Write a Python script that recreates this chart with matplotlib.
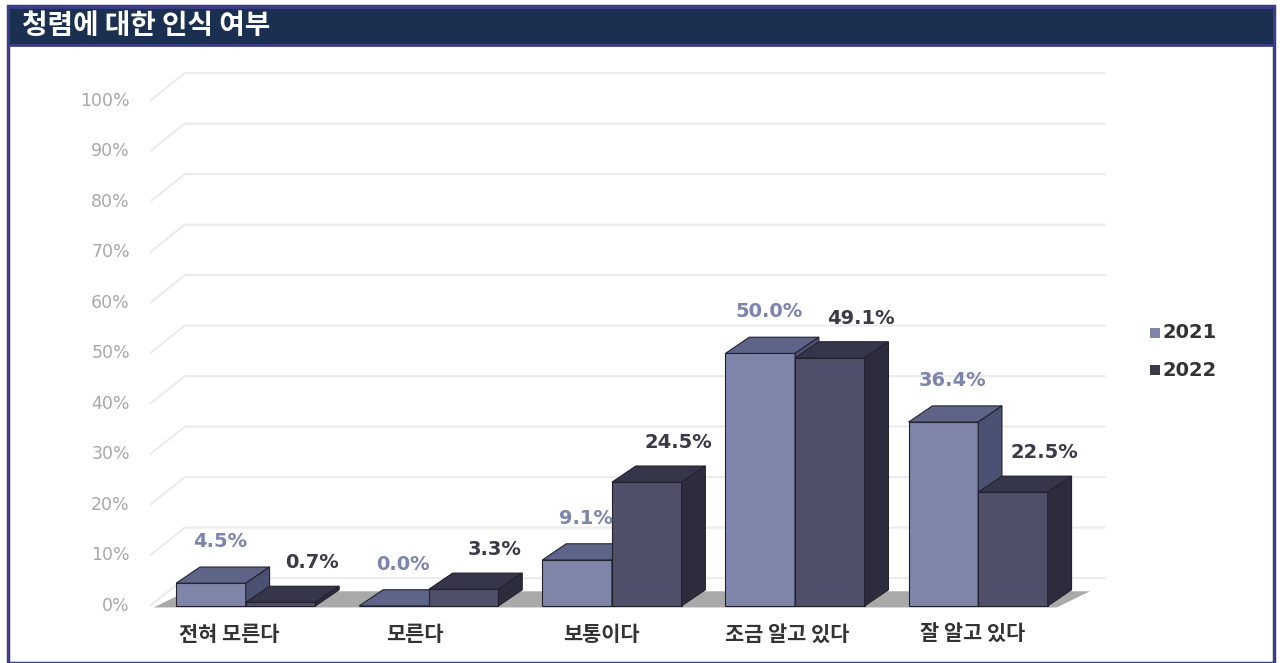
import matplotlib.pyplot as plt
from matplotlib.patches import Polygon, Rectangle

plt.rcParams['font.family'] = ['Noto Sans CJK KR', 'DejaVu Sans']

title = '청렴에 대한 인식 여부'
categories = ['전혀 모른다', '모른다', '보통이다', '조금 알고 있다', '잘 알고 있다']
series_names = ['2021', '2022']
values_2021 = [4.5, 0.0, 9.1, 50.0, 36.4]
values_2022 = [0.7, 3.3, 24.5, 49.1, 22.5]
yticks = [0, 10, 20, 30, 40, 50, 60, 70, 80, 90, 100]

front_colors = ['#7f85a8', '#4f4f6a']
top_colors = ['#5d6488', '#36364a']
side_colors = ['#4b5172', '#2c2c3c']
label_colors = ['#7d84ae', '#3a3a48']

fig = plt.figure(figsize=(12.8, 6.63), dpi=100)
fig.patch.set_facecolor('white')

# frame and title bar
fig.patches.append(Rectangle((8 / 1280, 0), 1266 / 1280, 1 - 6 / 663, transform=fig.transFigure,
                             facecolor='none', edgecolor='#3d3d8a', lw=2.5, zorder=5))
fig.patches.append(Rectangle((8 / 1280, 1 - 45 / 663), 1266 / 1280, 38 / 663, transform=fig.transFigure,
                             facecolor='#1b3050', edgecolor='#3d3d8a', lw=2, zorder=5))
fig.text(22 / 1280, 1 - 26 / 663, title, color='white', fontsize=20, fontweight='bold',
         va='center', ha='left', zorder=6)

ax = fig.add_axes([150 / 1280, 50 / 663, 960 / 1280, 545 / 663])
ax.set_xlim(-0.523, 4.72)
ax.set_ylim(-1.4, 106.5)
ax.axis('off')

x0 = -0.523
gdx, gdy = 0.19, 5.5
x_end = 4.69
for v in yticks:
    ax.plot([x0, x0 + gdx, x_end], [v, v + gdy, v + gdy], color='#ebebeb', lw=1.5, zorder=1)
    ax.text(x0 - 0.11, v, f'{v}%', ha='right', va='center', color='#a8a8a8', fontsize=12.5,
            family='DejaVu Sans')

# floor
bw = 0.38
ddx, ddy = 0.13, 3.2
n = len(categories)
floor = Polygon([(x0 + 0.02, -0.3), (n - 1 + bw + 0.05, -0.3), (n - 1 + bw + ddx + 0.1, ddy - 0.3),
                 (x0 + 0.02 + ddx + 0.05, ddy - 0.3)], closed=True, facecolor='#8c8c8c',
                edgecolor='none', alpha=0.75, zorder=2)
ax.add_patch(floor)

for i in range(n):
    for s, vals in enumerate([values_2021, values_2022]):
        v = vals[i]
        left = i - bw + s * bw
        right = left + bw
        ax.bar(left, v, width=bw, align='edge', color=front_colors[s], edgecolor='#22222e',
               lw=0.8, zorder=3 + s)
        top = Polygon([(left, v), (right, v), (right + ddx, v + ddy), (left + ddx, v + ddy)],
                      closed=True, facecolor=top_colors[s], edgecolor='#22222e', lw=0.8, zorder=3 + s)
        side = Polygon([(right, 0), (right + ddx, ddy), (right + ddx, v + ddy), (right, v)],
                       closed=True, facecolor=side_colors[s], edgecolor='#22222e', lw=0.8, zorder=3 + s)
        ax.add_patch(top)
        ax.add_patch(side)
        lx = left + bw / 2 + (0.05 if s == 0 else 0.17)
        ly = v + (8.3 if s == 0 else 7.8)
        ax.text(lx, ly, f'{v:.1f}%', ha='center', va='center', color=label_colors[s],
                fontsize=14, fontweight='bold', family='DejaVu Sans', zorder=6)
    ax.text(i * 1.015 - 0.09, -5.6, categories[i], ha='center', va='center', color='#333333',
            fontsize=15, fontweight='bold', clip_on=False)

# legend
for s, name in enumerate(series_names):
    y = 1 - (333 + 37 * s) / 663
    fig.patches.append(Rectangle((1150 / 1280, y - 5 / 663), 10 / 1280, 10 / 663, transform=fig.transFigure,
                                 facecolor=front_colors[s] if s == 0 else '#3a3a48', edgecolor='none'))
    fig.text(1163 / 1280, y, name, color='#333333', fontsize=14, fontweight='bold', va='center', ha='left',
             family='DejaVu Sans')

fig.savefig('out.png', dpi=100)
